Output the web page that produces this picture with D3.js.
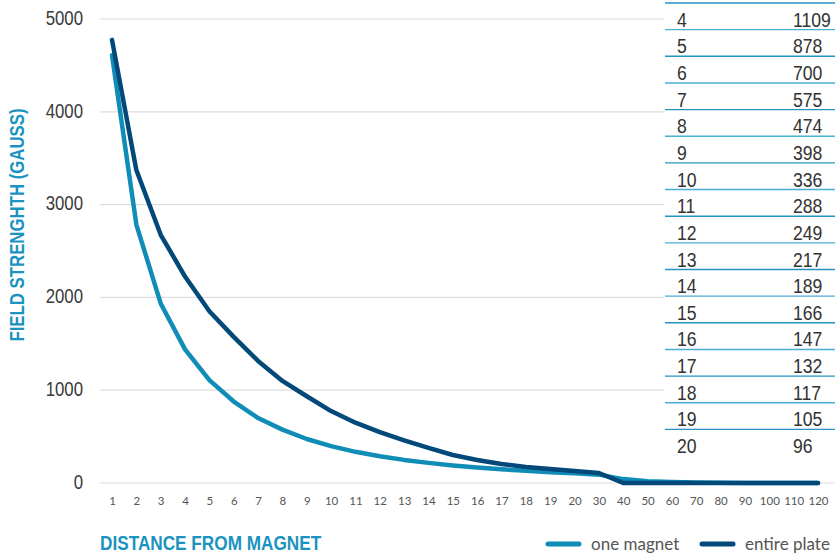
<!DOCTYPE html>
<html>
<head>
<meta charset="UTF-8">
<title>Field strength vs distance</title>
<script src="https://cdnjs.cloudflare.com/ajax/libs/d3/7.8.5/d3.min.js"></script>
<style>
  body { margin: 0; background: #fff; }
</style>
</head>
<body>
<div id="chart"></div>
<script>
// Data
var distances = ["1","2","3","4","5","6","7","8","9","10","11","12","13","14","15","16","17","18","19","20",
                 "30","40","50","60","70","80","90","100","110","120"];
var oneMagnet = [4610, 2785, 1935, 1440, 1109, 878, 700, 575, 474, 398, 336, 288, 249, 217, 189, 166, 147, 132, 117, 105,
                 90, 42, 20, 10, 5, 2, 1, 1, 1, 1];
var entirePlate = [4775, 3372, 2675, 2225, 1850, 1575, 1315, 1100, 935, 775, 650, 548, 460, 378, 302, 248, 205, 172, 150, 130,
                   108, 0, 0, 0, 0, 0, 0, 0, 0, 0];
var yTicks = [0, 1000, 2000, 3000, 4000, 5000];
var tableDist = [4, 5, 6, 7, 8, 9, 10, 11, 12, 13, 14, 15, 16, 17, 18, 19, 20];
var tableVal = [1109, 878, 700, 575, 474, 398, 336, 288, 249, 217, 189, 166, 147, 132, 117, 105, 96];

var w = 835, h = 555;
var lightBlue = "#0f8db7", darkBlue = "#02497a", titleBlue = "#1a93c0";
var narrow = "'Liberation Sans', Arial, sans-serif";   // squeezed with scale() below

var svg = d3.select("#chart").append("svg")
    .attr("width", w)
    .attr("height", h);

// Scales
var x = d3.scalePoint().domain(distances).range([112, 818]);
var y = d3.scaleLinear().domain([0, 5000]).range([483, 19]);

// Gridlines
svg.selectAll("line.grid")
    .data(yTicks)
    .enter().append("line")
    .attr("class", "grid")
    .attr("x1", 100).attr("x2", w)
    .attr("y1", function(d) { return y(d); })
    .attr("y2", function(d) { return y(d); })
    .attr("stroke", "#dddddd")
    .attr("stroke-width", 1.2);

// Y axis labels
var yAxis = d3.axisLeft(y).tickValues(yTicks).tickSize(0).tickPadding(0).tickFormat(d3.format("d"));
var gy = svg.append("g").attr("transform", "translate(83,0)").call(yAxis);
gy.select(".domain").remove();
gy.selectAll("text")
    .attr("font-family", narrow)
    .attr("font-size", "21px")
    .attr("fill", "#3a3a3a")
    .attr("dy", "0.25em")
    .attr("transform", "scale(0.8,1)");

// X axis labels
var xAxis = d3.axisBottom(x).tickSize(0).tickPadding(0);
var gx = svg.append("g").attr("transform", "translate(0,505)").call(xAxis);
gx.select(".domain").remove();
gx.selectAll("text")
    .attr("font-family", "Lato, sans-serif")
    .attr("font-size", "11.5px")
    .attr("fill", "#555")
    .attr("dy", 0);

// Lines
var line = d3.line()
    .x(function(d, i) { return x(distances[i]); })
    .y(function(d) { return y(d); });

svg.append("path")
    .datum(oneMagnet)
    .attr("d", line)
    .attr("fill", "none")
    .attr("stroke", lightBlue)
    .attr("stroke-width", 4.5)
    .attr("stroke-linejoin", "round")
    .attr("stroke-linecap", "round");

svg.append("path")
    .datum(entirePlate)
    .attr("d", line)
    .attr("fill", "none")
    .attr("stroke", darkBlue)
    .attr("stroke-width", 4.5)
    .attr("stroke-linejoin", "round")
    .attr("stroke-linecap", "round");

// Data table on the right
var rowH = 26.65, tableTop = 3;
var table = svg.append("g");
table.append("rect")
    .attr("x", 664).attr("y", 0)
    .attr("width", w - 664).attr("height", 458)
    .attr("fill", "#fff");

table.selectAll("line.sep")
    .data(tableDist)
    .enter().append("line")
    .attr("class", "sep")
    .attr("x1", 665).attr("x2", w)
    .attr("y1", function(d, i) { return tableTop + i * rowH; })
    .attr("y2", function(d, i) { return tableTop + i * rowH; })
    .attr("stroke", function(d, i) { return i % 2 ? "#4aaed6" : "#2793c0"; })
    .attr("stroke-width", 1.4);

var rows = table.selectAll("g.row")
    .data(tableDist)
    .enter().append("g")
    .attr("class", "row")
    .attr("transform", function(d, i) { return "translate(0," + (tableTop + (i + 1) * rowH - 3) + ")"; });

rows.append("text")
    .attr("transform", "translate(677,0) scale(0.86,1)")
    .attr("font-family", narrow)
    .attr("font-size", "20.5px")
    .attr("fill", "#333")
    .text(function(d) { return d; });

rows.append("text")
    .attr("transform", "translate(793,0) scale(0.86,1)")
    .attr("font-family", narrow)
    .attr("font-size", "20.5px")
    .attr("fill", "#333")
    .text(function(d, i) { return tableVal[i]; });

// Axis titles
svg.append("text")
    .attr("transform", "translate(24,225) rotate(-90) scale(0.8,1)")
    .attr("text-anchor", "middle")
    .attr("font-family", narrow)
    .attr("font-weight", "bold")
    .attr("font-size", "21px")
    .attr("fill", titleBlue)
    .text("FIELD STRENGHTH (GAUSS)");

svg.append("text")
    .attr("transform", "translate(100,550) scale(0.86,1)")
    .attr("font-family", narrow)
    .attr("font-weight", "bold")
    .attr("font-size", "20px")
    .attr("fill", titleBlue)
    .text("DISTANCE FROM MAGNET");

// Legend
var legend = svg.append("g").attr("transform", "translate(0,544)");
var items = [{ name: "one magnet", color: lightBlue, x: 546 }, { name: "entire plate", color: darkBlue, x: 700 }];
var li = legend.selectAll("g").data(items).enter().append("g")
    .attr("transform", function(d) { return "translate(" + d.x + ",0)"; });
li.append("line")
    .attr("x1", 2).attr("x2", 33).attr("y1", 0).attr("y2", 0)
    .attr("stroke", function(d) { return d.color; })
    .attr("stroke-width", 5)
    .attr("stroke-linecap", "round");
li.append("text")
    .attr("x", 45).attr("y", 6)
    .attr("font-family", "Lato, sans-serif")
    .attr("font-size", "17px")
    .attr("fill", "#555")
    .text(function(d) { return d.name; });
</script>
</body>
</html>
